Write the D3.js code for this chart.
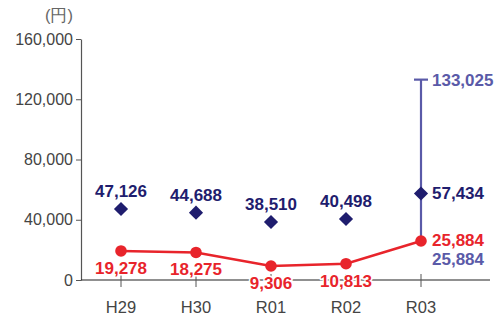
<!DOCTYPE html>
<html><head><meta charset="utf-8">
<script src="https://cdn.jsdelivr.net/npm/d3@7"></script>
<style>
html,body{margin:0;padding:0;background:#fff;}
text{font-family:"Liberation Sans",Arial,Helvetica,sans-serif;}
</style></head>
<body><svg id="c" width="499" height="317"></svg>
<script>
const categories = ["H29","H30","R01","R02","R03"];
const averageValues = [47126, 44688, 38510, 40498, 57434];
const medianValues = [19278, 18275, 9306, 10813, 25884];
const rangeCategory = "R03";
const rangeMax = 133025;
const rangeMin = 25884;
const yTicks = [0, 40000, 80000, 120000, 160000];
const unitLabel = "(円)";

const svg = d3.select("#c");
const navy = "#1f1d6e", red = "#e8242b", purple = "#5a5aa8", axisC = "#555";
const x = d3.scalePoint().domain(categories).range([121, 421]);
const y = d3.scaleLinear().domain([0, 160000]).range([280, 39]);
const fmt = d3.format(",");

// y axis
const ya = svg.append("g").attr("transform","translate(81,0)")
  .call(d3.axisLeft(y).tickValues(yTicks).tickFormat(fmt).tickSize(5).tickSizeOuter(0));
ya.select(".domain").attr("stroke", axisC).attr("stroke-width",1.2);
ya.selectAll(".tick line").attr("stroke", axisC);
ya.selectAll(".tick text").attr("fill","#444").attr("font-size",16).attr("x",-8);

// x axis
svg.append("line").attr("x1",81).attr("x2",490).attr("y1",280).attr("y2",280).attr("stroke","#222").attr("stroke-width",1.2);
const xa = svg.append("g");
xa.selectAll("line").data(categories).join("line")
  .attr("x1",d=>x(d)).attr("x2",d=>x(d)).attr("y1",274).attr("y2",287).attr("stroke",axisC);
xa.selectAll("text").data(categories).join("text")
  .attr("x",d=>x(d)).attr("y",313).attr("text-anchor","middle").attr("fill","#444").attr("font-size",16.5).text(d=>d);

svg.append("text").attr("x",59).attr("y",21).attr("text-anchor","middle").attr("fill","#666").attr("font-size",16.5)
  .attr("font-family","'Noto Sans CJK JP',sans-serif").text(unitLabel);

// range bar
const rx = x(rangeCategory);
svg.append("line").attr("x1",rx).attr("x2",rx).attr("y1",y(rangeMax)).attr("y2",y(rangeMin)).attr("stroke",purple).attr("stroke-width",2.2);
svg.append("line").attr("x1",rx-7).attr("x2",rx+7).attr("y1",y(rangeMax)).attr("y2",y(rangeMax)).attr("stroke",purple).attr("stroke-width",2.2);

// median line
svg.append("path").datum(medianValues)
  .attr("d", d3.line().x((d,i)=>x(categories[i])).y(d=>y(d)))
  .attr("fill","none").attr("stroke",red).attr("stroke-width",2.5);
svg.selectAll("circle.m").data(medianValues).join("circle").attr("class","m")
  .attr("cx",(d,i)=>x(categories[i])).attr("cy",d=>y(d)).attr("r",5.8).attr("fill",red);

// diamonds
svg.selectAll("path.a").data(averageValues).join("path").attr("class","a")
  .attr("d", d3.symbol().type(d3.symbolSquare).size(100))
  .attr("transform",(d,i)=>`translate(${x(categories[i])},${y(d)}) rotate(45)`)
  .attr("fill",navy);

// labels
const lab = (sel)=>sel.attr("font-size",17).attr("font-weight","bold")
  .attr("stroke","#fff").attr("stroke-width",3).attr("paint-order","stroke").attr("stroke-linejoin","round");
const last = categories.length-1;
lab(svg.selectAll("text.al").data(averageValues).join("text").attr("class","al")
  .attr("x",(d,i)=> i===last ? x(categories[i])+11 : x(categories[i]))
  .attr("y",(d,i)=> i===last ? y(d)+6 : y(d)-12)
  .attr("text-anchor",(d,i)=> i===last ? "start":"middle")
  .attr("fill",navy).text(d=>fmt(d)));
lab(svg.selectAll("text.ml").data(medianValues).join("text").attr("class","ml")
  .attr("x",(d,i)=> i===last ? x(categories[i])+11 : x(categories[i]))
  .attr("y",(d,i)=> i===last ? y(d)+5 : y(d)+23)
  .attr("text-anchor",(d,i)=> i===last ? "start":"middle")
  .attr("fill",red).text(d=>fmt(d)));
lab(svg.append("text").attr("x",rx+11).attr("y",y(rangeMax)+6).attr("fill",purple).text(fmt(rangeMax)));
lab(svg.append("text").attr("x",rx+11).attr("y",y(rangeMin)+24).attr("fill",purple).text(fmt(rangeMin)));
</script></body></html>
